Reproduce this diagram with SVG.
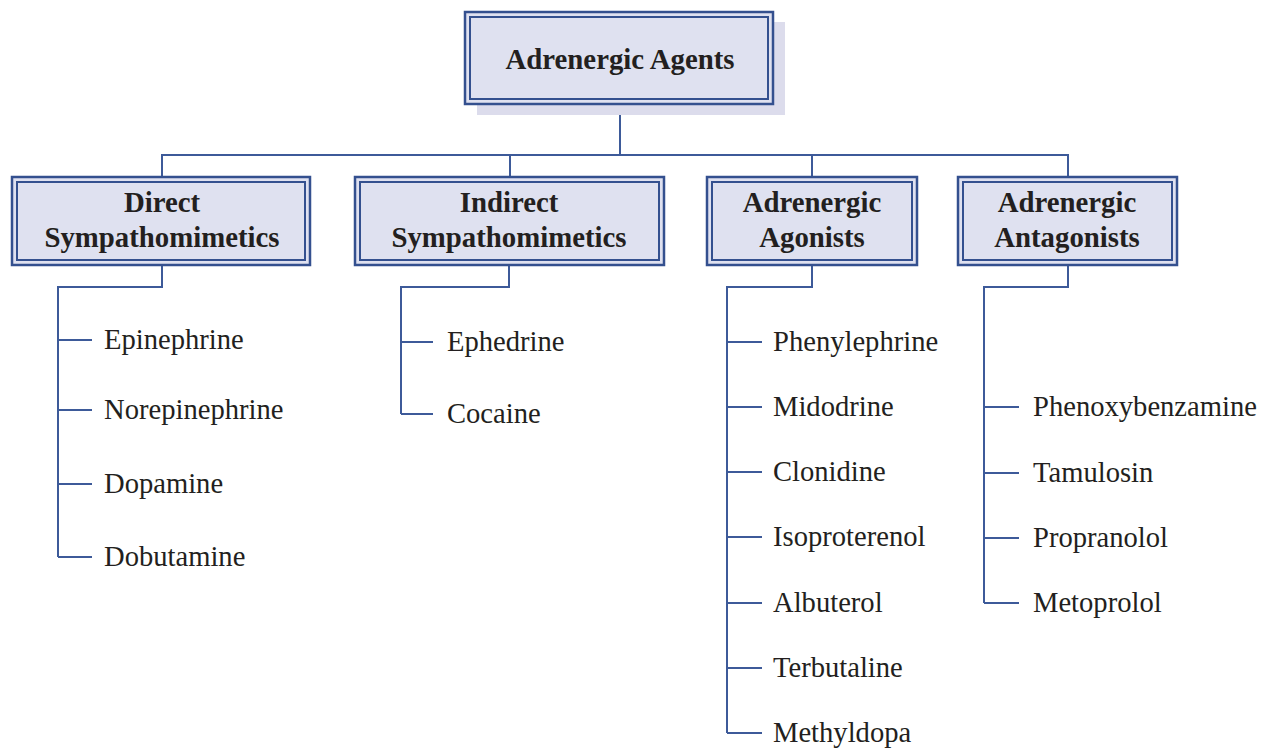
<svg xmlns="http://www.w3.org/2000/svg" width="1270" height="748" viewBox="0 0 1270 748">
<style>
.bg{fill:#ffffff}
.shadow{fill:#dcdcec}
.outer{fill:#dfe1f0;stroke:#34508f;stroke-width:2.5}
.inner{fill:none;stroke:#34508f;stroke-width:2}
.hd{font-family:"Liberation Serif","Times New Roman",serif;font-weight:bold;font-size:28.8px;fill:#231f20;text-anchor:middle}
.it{font-family:"Liberation Serif","Times New Roman",serif;font-size:28.6px;fill:#231f20}
.ln{fill:none;stroke:#3d5a99;stroke-width:2}
</style>
<rect class="bg" width="1270" height="748"/>
<g id="connectors">
<path class="ln" d="M620,104 V155 M162,177 V155 H1068 V177 M510,155 V177 M812,155 V177"/>
<path class="ln" d="M162,265 V287 H58 V557 M58,340 H92 M58,410 H92 M58,484 H92 M58,557 H92"/>
<path class="ln" d="M509,265 V287 H401 V414 M401,342 H433 M401,414 H433"/>
<path class="ln" d="M812,265 V287 H727 V733 M727,342 H762 M727,407 H762 M727,472 H762 M727,537 H762 M727,603 H762 M727,668 H762 M727,733 H762"/>
<path class="ln" d="M1068,265 V287 H984 V603 M984,407 H1019 M984,473 H1019 M984,538 H1019 M984,603 H1019"/>
</g>
<g id="root">
<rect class="shadow" x="477" y="22" width="308" height="93"/>
<rect class="outer" x="465" y="12" width="308" height="92"/>
<rect class="inner" x="470" y="17" width="298" height="82"/>
<text class="hd" x="620" y="69">Adrenergic Agents</text>
</g>
<g id="direct">
<rect class="outer" x="12" y="177" width="298" height="88"/>
<rect class="inner" x="17" y="182" width="288" height="78"/>
<text class="hd" x="162" y="212">Direct</text>
<text class="hd" x="162" y="247">Sympathomimetics</text>
</g>
<g id="indirect">
<rect class="outer" x="355" y="177" width="309" height="88"/>
<rect class="inner" x="360" y="182" width="299" height="78"/>
<text class="hd" x="509" y="212">Indirect</text>
<text class="hd" x="509" y="247">Sympathomimetics</text>
</g>
<g id="agonists">
<rect class="outer" x="707" y="177" width="210" height="88"/>
<rect class="inner" x="712" y="182" width="200" height="78"/>
<text class="hd" x="812" y="212">Adrenergic</text>
<text class="hd" x="812" y="247">Agonists</text>
</g>
<g id="antagonists">
<rect class="outer" x="958" y="177" width="219" height="88"/>
<rect class="inner" x="963" y="182" width="209" height="78"/>
<text class="hd" x="1067" y="212">Adrenergic</text>
<text class="hd" x="1067" y="247">Antagonists</text>
</g>
<g id="direct-items">
<text class="it" x="104" y="349">Epinephrine</text>
<text class="it" x="104" y="419">Norepinephrine</text>
<text class="it" x="104" y="493">Dopamine</text>
<text class="it" x="104" y="566">Dobutamine</text>
</g>
<g id="indirect-items">
<text class="it" x="447" y="351">Ephedrine</text>
<text class="it" x="447" y="423">Cocaine</text>
</g>
<g id="agonist-items">
<text class="it" x="773" y="351">Phenylephrine</text>
<text class="it" x="773" y="416">Midodrine</text>
<text class="it" x="773" y="481">Clonidine</text>
<text class="it" x="773" y="546">Isoproterenol</text>
<text class="it" x="773" y="612">Albuterol</text>
<text class="it" x="773" y="677">Terbutaline</text>
<text class="it" x="773" y="742">Methyldopa</text>
</g>
<g id="antagonist-items">
<text class="it" x="1033" y="416">Phenoxybenzamine</text>
<text class="it" x="1033" y="482">Tamulosin</text>
<text class="it" x="1033" y="547">Propranolol</text>
<text class="it" x="1033" y="612">Metoprolol</text>
</g>
</svg>
